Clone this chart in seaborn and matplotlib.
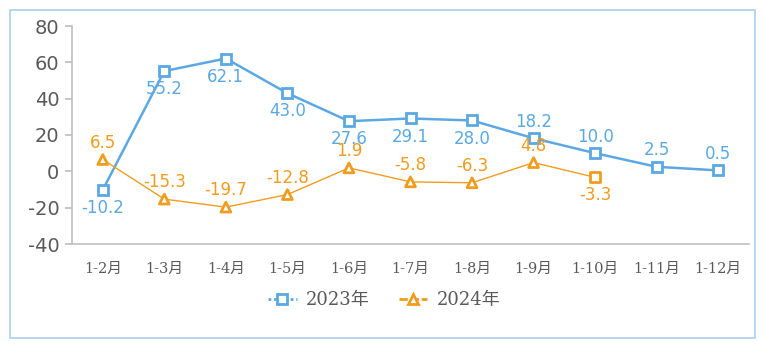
import matplotlib
matplotlib.use("Agg")
import matplotlib.pyplot as plt
import seaborn as sns
import pandas as pd
from matplotlib.lines import Line2D
from matplotlib.patches import Rectangle

categories = ["1-2月", "1-3月", "1-4月", "1-5月", "1-6月", "1-7月", "1-8月", "1-9月", "1-10月", "1-11月", "1-12月"]
values_2023 = [-10.2, 55.2, 62.1, 43.0, 27.6, 29.1, 28.0, 18.2, 10.0, 2.5, 0.5]
values_2024 = [6.5, -15.3, -19.7, -12.8, 1.9, -5.8, -6.3, 4.8, -3.3]
pos_2023 = ["below"] * 7 + ["above"] * 4
pos_2024 = ["above"] * 8 + ["below"]
markers_2024 = ["^"] * 8 + ["s"]
yticks = [-40, -20, 0, 20, 40, 60, 80]

BLUE = "#5BA8E2"
ORANGE = "#F09C1E"

sns.set_theme(style="white")
plt.rcParams['font.family'] = ['DejaVu Sans', 'Noto Sans CJK SC']

fig = plt.figure(figsize=(7.64, 3.46), dpi=100)
ax = fig.add_axes([72/764, 1-244/346, (749-72)/764, (244-26)/346])

df23 = pd.DataFrame({"x": list(range(len(values_2023))), "y": values_2023})
df24 = pd.DataFrame({"x": list(range(len(values_2024))), "y": values_2024, "m": markers_2024})

sns.lineplot(data=df23, x="x", y="y", ax=ax, color=BLUE, lw=1.8, marker="s",
             markersize=6.5, markerfacecolor="white", markeredgecolor=BLUE,
             markeredgewidth=2, zorder=3)
sns.lineplot(data=df24, x="x", y="y", ax=ax, color=ORANGE, lw=1.0, zorder=3)
sns.scatterplot(data=df24, x="x", y="y", style="m", markers={"^": "^", "s": "s"},
                ax=ax, s=50, facecolor="white", edgecolor=ORANGE, linewidth=2,
                zorder=4, legend=False)

for i, v in enumerate(values_2023):
    off = 12 if pos_2023[i] == "above" else -13
    ax.annotate(f"{v:.1f}", (i, v), xytext=(0, off), textcoords="offset points",
                ha="center", va="center", color=BLUE, fontsize=12, zorder=5)
for i, v in enumerate(values_2024):
    off = 12 if pos_2024[i] == "above" else -13
    ax.annotate(f"{v:.1f}", (i, v), xytext=(0, off), textcoords="offset points",
                ha="center", va="center", color=ORANGE, fontsize=12, zorder=5)

ax.set_xlim(-0.5, len(categories) - 0.5)
ax.set_ylim(-40, 80)
ax.set_xticks(range(len(categories)))
ax.set_xticklabels(categories, family=['DejaVu Serif', 'Noto Sans CJK SC'], fontsize=10.5, color="#595959")
ax.set_yticks(yticks)
ax.set_yticklabels([str(t) for t in yticks], fontsize=14, color="#595959")
ax.set_xlabel("")
ax.set_ylabel("")
ax.tick_params(axis="y", left=True, length=5, color="#BFBFBF", pad=4)
ax.tick_params(axis="x", bottom=False, pad=7)
for s in ["top", "right"]:
    ax.spines[s].set_visible(False)
for s in ["left", "bottom"]:
    ax.spines[s].set_color("#BFBFBF")
    ax.spines[s].set_linewidth(1.2)

handles = [
    Line2D([], [], color=BLUE, lw=2, ls=(0, (1, 1)), marker="s", markersize=6.5,
           markerfacecolor="white", markeredgecolor=BLUE, markeredgewidth=2),
    Line2D([], [], color=ORANGE, lw=2, ls=(0, (3, 1)), marker="^", markersize=6.5,
           markerfacecolor="white", markeredgecolor=ORANGE, markeredgewidth=2),
]
fig.legend(handles, ["2023年", "2024年"], loc="center", bbox_to_anchor=(384/764, 1-300/346),
           ncol=2, frameon=False, handlelength=1.6, columnspacing=1.6, handletextpad=0.5,
           prop={"family": ['DejaVu Serif', 'Noto Sans CJK SC'], "size": 13},
           labelcolor="#595959")

fig.patches.append(Rectangle((10/764, 1-338/346), 745/764, 328/346, transform=fig.transFigure,
                             fill=False, edgecolor="#A9D0EE", lw=1.2, zorder=0))

fig.savefig("out.png", dpi=100)
